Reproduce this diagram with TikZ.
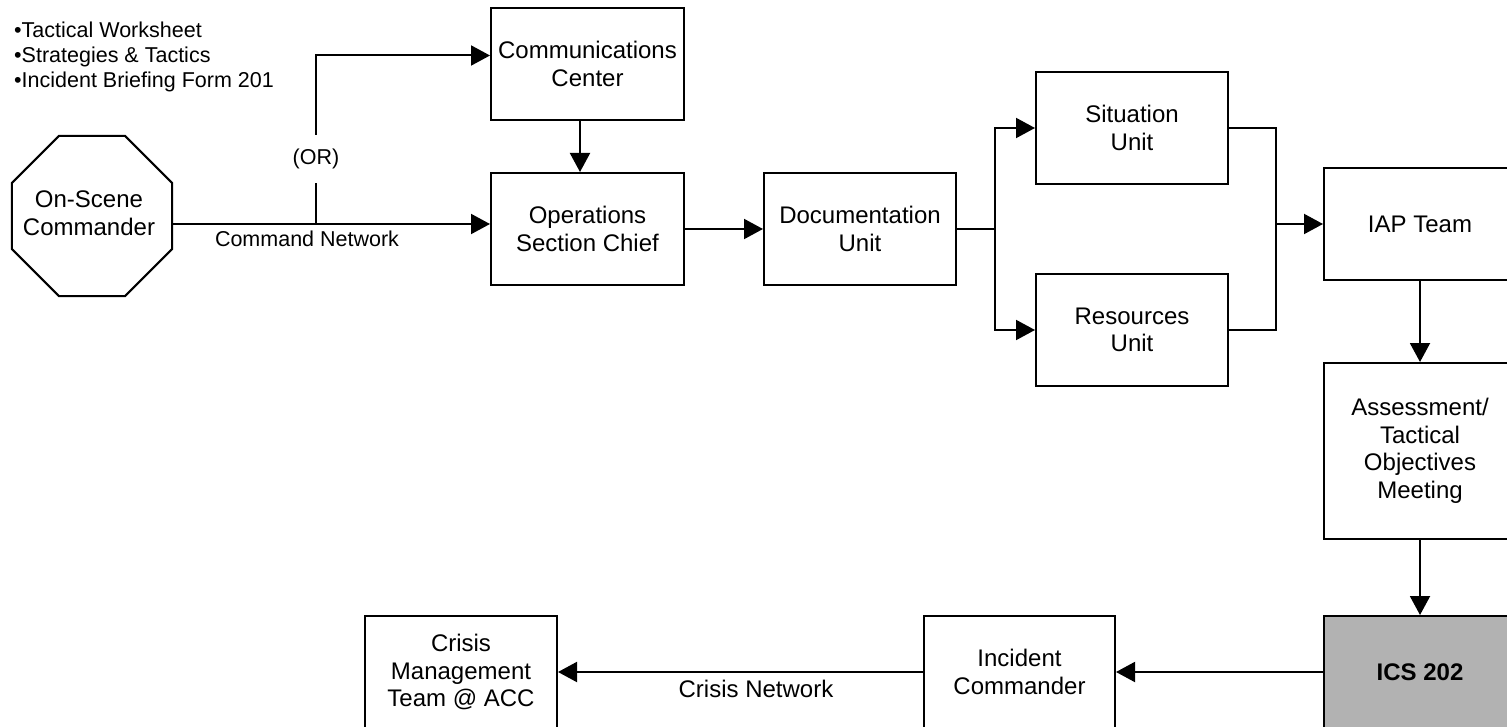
\documentclass[tikz,border=0pt]{standalone}
\usepackage{fontspec}
\setmainfont{Liberation Sans}
\usetikzlibrary{arrows.meta,shapes.geometric}
\definecolor{icsgray}{RGB}{178,178,178}
\begin{document}
\begin{tikzpicture}[x=1pt,y=-1pt,
  box/.style={draw,line width=2pt,minimum width=192pt,minimum height=112pt,inner sep=0pt,align=center,font=\fontsize{24}{27.5}\selectfont},
  arr/.style={line width=2pt,-{Triangle[length=19pt,width=20pt]}},
  ln/.style={line width=2pt},
  lbl/.style={font=\fontsize{21.5}{24.7}\selectfont,inner sep=0pt,align=left}]
\clip (0,0) rectangle (1507,727);
\useasboundingbox (0,0) rectangle (1507,727);
% nodes
\node[lbl,anchor=north west] (list) at (14,22) {\textbullet Tactical Worksheet\\\textbullet Strategies \& Tactics\\\textbullet Incident Briefing Form 201};
\node[draw,line width=2pt,regular polygon,regular polygon sides=8,minimum size=173.2pt,inner sep=0pt] (osc) at (92,216) {};
\node[inner sep=0pt,align=center,font=\fontsize{24}{27.5}\selectfont] (osct) at (89,213) {On-Scene\\Commander};
\node[box,minimum width=193pt] (comm) at (587.5,64) {Communications\\Center};
\node[box,minimum width=193pt] (ops) at (587.5,229) {Operations\\Section Chief};
\node[box] (doc) at (860,229) {Documentation\\Unit};
\node[box] (sit) at (1132,128) {Situation\\Unit};
\node[box] (res) at (1132,330) {Resources\\Unit};
\node[box] (iap) at (1420,224) {IAP Team};
\node[box,minimum height=176pt] (asm) at (1420,451) {Assessment/\\Tactical\\Objectives\\Meeting};
\node[box,fill=icsgray,font=\fontsize{24}{27.5}\selectfont\bfseries] (ics) at (1420,672) {ICS 202};
\node[box,minimum width=191pt] (ic) at (1019.5,672) {Incident\\Commander};
\node[box] (cmt) at (461,672) {Crisis\\Management\\Team @ ACC};
\node[lbl,minimum height=48pt] (orl) at (316,159) {(OR)};
\node[lbl] (cmdnet) at (307,239) {Command Network};
\node[lbl,font=\fontsize{24}{27.5}\selectfont] (crisnet) at (756,689) {Crisis Network};
% helper coordinates
\coordinate (cy) at (0,224);
\coordinate (j1) at (316,224);
\coordinate (j2) at (316,55.5);
\coordinate (xa) at (580,0);
\coordinate (b1) at (995,229);
\coordinate (m1) at (1276,128);
\coordinate (m2) at (1276,330);
\coordinate (m3) at (1276,224);
% connectors
\draw[arr] (osc.east |- cy) -- (ops.west |- cy);
\draw[ln] (j1) -- (orl.south);
\draw[arr] (orl.north) -- (j2) -- (comm.west |- j2);
\draw[arr] (comm.south -| xa) -- (ops.north -| xa);
\draw[arr] (ops.east) -- (doc.west);
\draw[ln] (doc.east) -- (b1);
\draw[arr] (b1) |- (sit.west);
\draw[arr] (b1) |- (res.west);
\draw[ln] (sit.east) -- (m1) -- (m2) -- (res.east);
\draw[arr] (m3) -- (iap.west |- m3);
\draw[arr] (iap.south) -- (asm.north);
\draw[arr] (asm.south) -- (ics.north);
\draw[arr] (ics.west) -- (ic.east);
\draw[arr] (ic.west) -- (cmt.east);
\end{tikzpicture}
\end{document}
